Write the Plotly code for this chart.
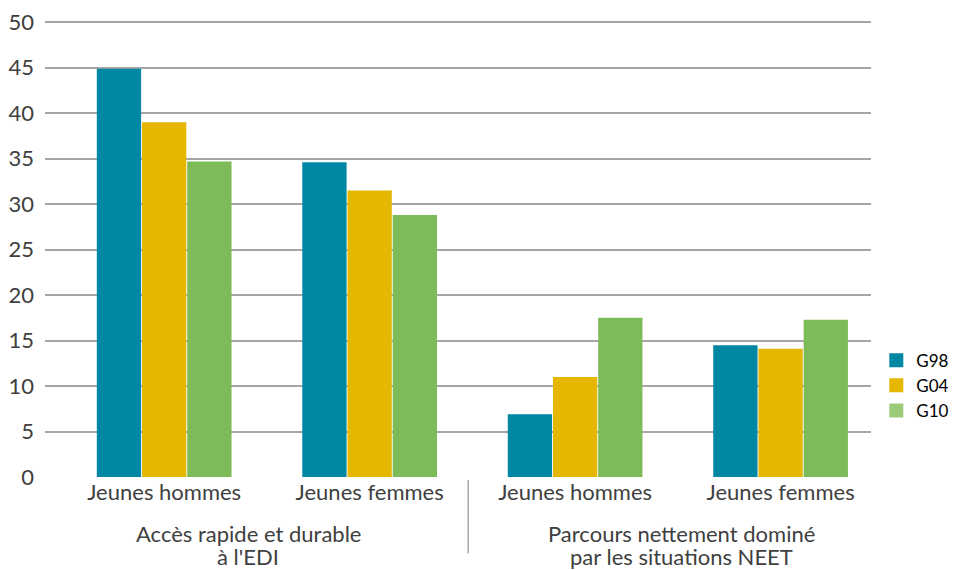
import plotly.graph_objects as go

# Data
positions = [0, 1, 2, 3]
sub_labels = ["Jeunes hommes", "Jeunes femmes", "Jeunes hommes", "Jeunes femmes"]
group_label_lines = [["Accès rapide et durable", "à l'EDI"],
                     ["Parcours nettement dominé", "par les situations NEET"]]
group_centers = [0.41, 2.52]
series_names = ["G98", "G04", "G10"]
g98 = [44.9, 34.6, 6.9, 14.5]
g04 = [39.0, 31.5, 11.0, 14.1]
g10 = [34.7, 28.8, 17.5, 17.3]
y_ticks = [0, 5, 10, 15, 20, 25, 30, 35, 40, 45, 50]

bar_colors = ["#0087A3", "#E6B700", "#7DBB58"]
legend_colors = ["#0087A3", "#E6B700", "#9BCA7B"]

FONT = "Lato"
TXT = "#404040"

fig = go.Figure()
for name, vals, col in zip(series_names, [g98, g04, g10], bar_colors):
    fig.add_trace(go.Bar(x=positions, y=vals, name=name, marker=dict(color=col, line=dict(width=0)),
                         showlegend=False))
for name, col in zip(series_names, legend_colors):
    fig.add_trace(go.Scatter(x=[None], y=[None], name=name, mode="markers",
                             marker=dict(color=col, symbol="square", size=14, line=dict(width=0)),
                             showlegend=True))

fig.update_layout(
    width=950, height=562,
    margin=dict(l=37, r=87, t=12, b=93),
    paper_bgcolor="white", plot_bgcolor="white",
    barmode="group", bargap=0.34, bargroupgap=0.02,
    font=dict(family=FONT, color=TXT, size=18),
    xaxis=dict(range=[-0.58, 3.44], tickmode="array", tickvals=positions, ticktext=sub_labels,
               showgrid=False, zeroline=False, showline=False, ticks="", automargin=False,
               tickfont=dict(family=FONT, size=22, color=TXT), fixedrange=True),
    yaxis=dict(range=[0, 50.25], tickmode="array", tickvals=y_ticks, ticktext=[str(v) for v in y_ticks],
               showgrid=True, gridcolor="#A6A6A6", gridwidth=1.5, zeroline=False, showline=False,
               ticks="", ticklabelstandoff=10, automargin=False, ticklabeloverflow="allow",
               tickfont=dict(family=FONT, size=22, color=TXT)),
    legend=dict(xref="container", x=0.914, xanchor="left", yref="container", y=0.328, yanchor="middle",
                font=dict(family=FONT, size=17, color="#000000"),
                tracegroupgap=0, bgcolor="rgba(0,0,0,0)", itemsizing="trace"),
    showlegend=True,
)

for gx, lines in zip(group_centers, group_label_lines):
    for ly, line in zip([-0.1247, -0.1729], lines):
        fig.add_annotation(x=gx, xref="x", y=ly, yref="paper", yanchor="middle", text=line,
                           showarrow=False, font=dict(family=FONT, size=22, color=TXT), align="center")

fig.add_shape(type="line", xref="x", yref="paper", x0=1.48, x1=1.48, y0=-0.0066, y1=-0.167,
              line=dict(color="#A6A6A6", width=1.5))

fig.write_html("out.html")
